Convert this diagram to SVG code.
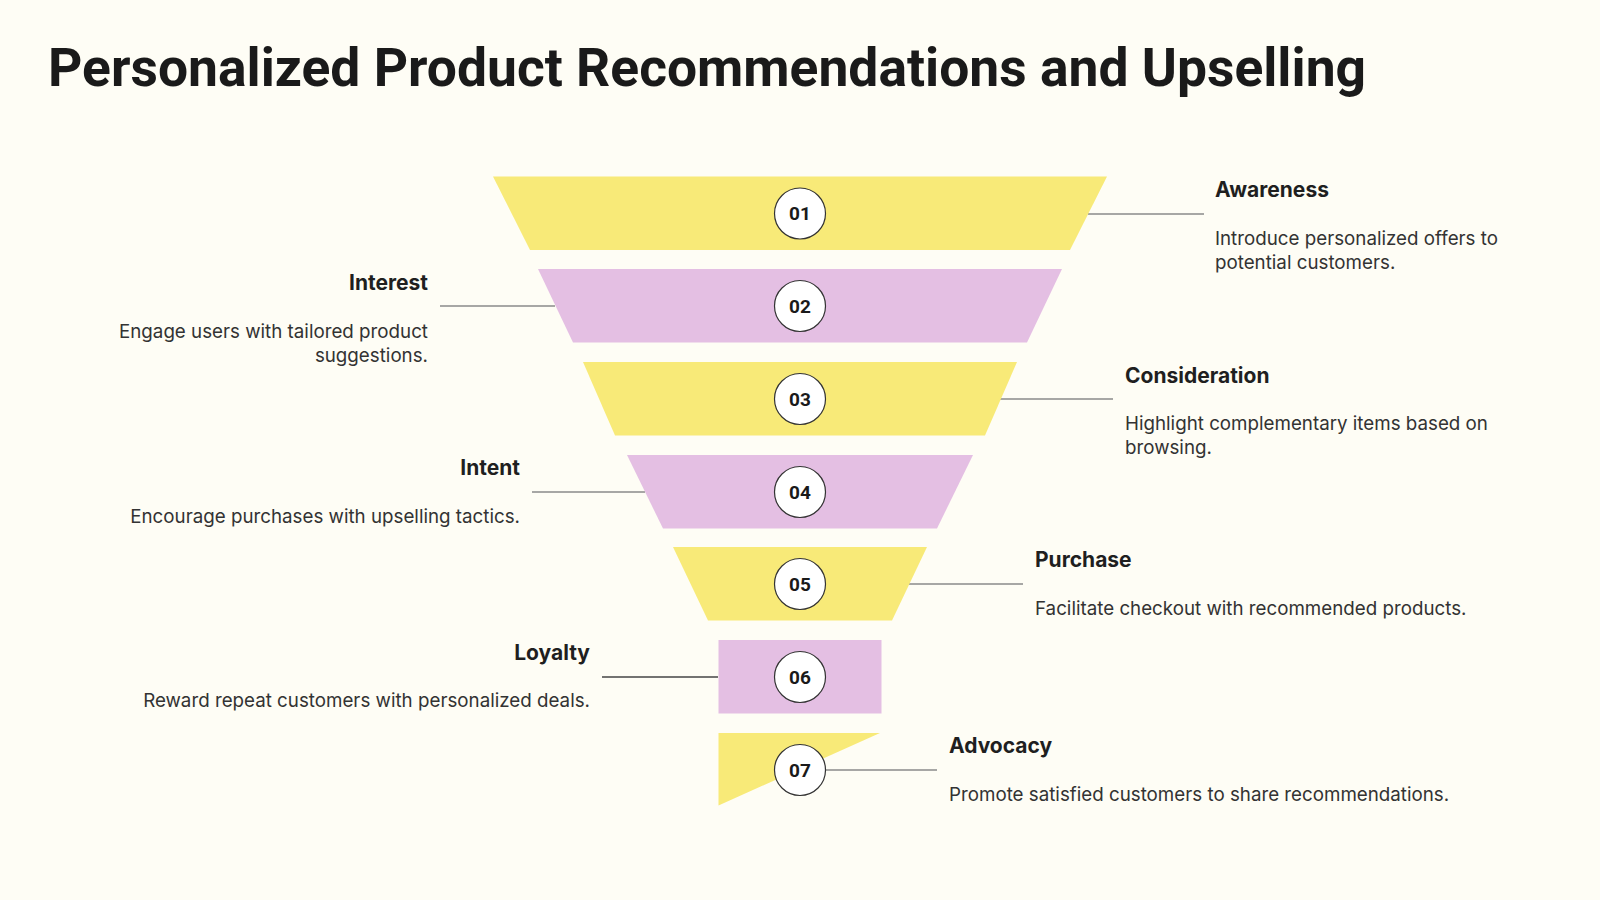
<svg xmlns="http://www.w3.org/2000/svg" width="1600" height="900" viewBox="0 0 1600 900">
<style>
.bg{fill:#FEFDF5}
.y{fill:#F8EA78}
.p{fill:#E4BFE3}
.c{fill:#FFFFFF;stroke:#333333;stroke-width:1.2}
.n{font-family:Roboto,"Liberation Sans",sans-serif;font-weight:700;font-size:19px;fill:#1a1a1a;text-anchor:middle}
.t{font-family:Inter,Roboto,"Liberation Sans",sans-serif;font-weight:700;font-size:21px;fill:#1f1f1f}
.d{font-family:Inter,Roboto,"Liberation Sans",sans-serif;font-size:18.75px;fill:#333333}
.r{text-anchor:end}
.ln{stroke:#8a8a8a;stroke-width:1.3;fill:none}
.title{font-family:Roboto,"Liberation Sans",sans-serif;font-weight:700;font-size:53.4px;fill:#1a1a1a}
</style>
<rect class="bg" x="0" y="0" width="1600" height="900"/>
<text class="title" x="48" y="86">Personalized Product Recommendations and Upselling</text>
<g id="connectors">
<line class="ln" x1="1088" y1="214" x2="1204" y2="214"/>
<line class="ln" x1="440" y1="306" x2="555" y2="306"/>
<line class="ln" x1="1000" y1="399" x2="1113" y2="399"/>
<line class="ln" x1="532" y1="492" x2="645" y2="492"/>
<line class="ln" x1="909" y1="584" x2="1023" y2="584"/>
<line class="ln" x1="602" y1="677" x2="718" y2="677" style="stroke:#444"/>
<line class="ln" x1="826" y1="770" x2="937" y2="770"/>
</g>
<g id="stage1">
<polygon class="y" points="493,176.5 1107,176.5 1070,250 530,250"/>
<circle class="c" cx="800" cy="213.5" r="25.5"/>
<text class="n" x="800" y="220.2">01</text>
<text class="t" x="1215" y="197">Awareness</text>
<text class="d" x="1215" y="245">Introduce personalized offers to</text>
<text class="d" x="1215" y="268.5">potential customers.</text>
</g>
<g id="stage2">
<polygon class="p" points="538,269 1062,269 1027,342.5 573,342.5"/>
<circle class="c" cx="800" cy="306" r="25.5"/>
<text class="n" x="800" y="312.7">02</text>
<text class="t r" x="428" y="290">Interest</text>
<text class="d r" x="428" y="338">Engage users with tailored product</text>
<text class="d r" x="428" y="362">suggestions.</text>
</g>
<g id="stage3">
<polygon class="y" points="583,362 1017,362 985,435.5 615,435.5"/>
<circle class="c" cx="800" cy="399" r="25.5"/>
<text class="n" x="800" y="405.7">03</text>
<text class="t" x="1125" y="383">Consideration</text>
<text class="d" x="1125" y="430">Highlight complementary items based on</text>
<text class="d" x="1125" y="453.5">browsing.</text>
</g>
<g id="stage4">
<polygon class="p" points="627,455 973,455 937,528.5 663,528.5"/>
<circle class="c" cx="800" cy="492" r="25.5"/>
<text class="n" x="800" y="498.7">04</text>
<text class="t r" x="520" y="475">Intent</text>
<text class="d r" x="520" y="522.5">Encourage purchases with upselling tactics.</text>
</g>
<g id="stage5">
<polygon class="y" points="673,547 927,547 892,620.5 708,620.5"/>
<circle class="c" cx="800" cy="584" r="25.5"/>
<text class="n" x="800" y="590.7">05</text>
<text class="t" x="1035" y="567">Purchase</text>
<text class="d" x="1035" y="615">Facilitate checkout with recommended products.</text>
</g>
<g id="stage6">
<rect class="p" x="718.5" y="640" width="163" height="73.5"/>
<circle class="c" cx="800" cy="677" r="25.5"/>
<text class="n" x="800" y="683.7">06</text>
<text class="t r" x="590" y="660">Loyalty</text>
<text class="d r" x="590" y="707">Reward repeat customers with personalized deals.</text>
</g>
<g id="stage7">
<polygon class="y" points="718.5,733 880,733 718.5,805.5"/>
<circle class="c" cx="800" cy="770" r="25.5"/>
<text class="n" x="800" y="776.7">07</text>
<text class="t" x="949" y="753">Advocacy</text>
<text class="d" x="949" y="801">Promote satisfied customers to share recommendations.</text>
</g>
</svg>
